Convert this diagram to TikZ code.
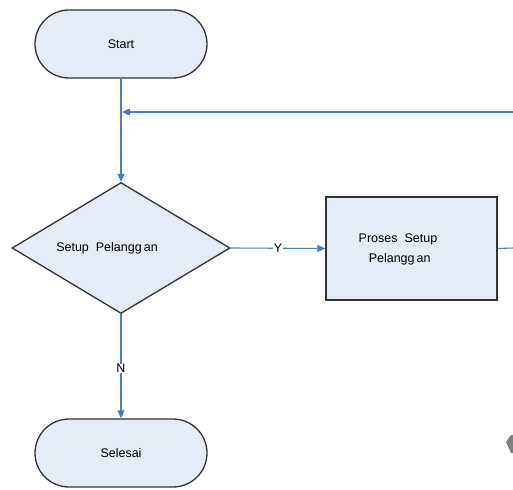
\documentclass[tikz,border=0pt]{standalone}
\usepackage{fontspec}
\setmainfont{Liberation Sans}
\usetikzlibrary{shapes.geometric,shapes.misc,arrows.meta}
\definecolor{boxfill}{HTML}{E6ECF7}
\definecolor{linkblue}{HTML}{4A7EC7}
\definecolor{edgegray}{HTML}{333333}
\begin{document}
\begin{tikzpicture}[x=1pt,y=-1pt,
  every node/.style={font=\fontsize{12.5}{20}\selectfont},
  term/.style={draw=edgegray,line width=1.3pt,fill=boxfill,rounded rectangle,minimum width=172pt,minimum height=68pt,inner sep=0pt},
  decide/.style={draw=edgegray,line width=1.3pt,fill=boxfill,diamond,minimum width=218pt,minimum height=131pt,inner sep=0pt,aspect=1.66},
  procbox/.style={draw=edgegray,line width=1.3pt,fill=boxfill,rectangle,minimum width=171pt,minimum height=103pt,inner sep=0pt},
  link/.style={draw=linkblue,line width=1.1pt,-{Triangle[length=8pt,width=7pt]}},
  plain/.style={draw=linkblue,line width=1.1pt},
  lbl/.style={fill=white,inner sep=1pt}]
\useasboundingbox (0,0) rectangle (513,489);
\node[term] (start) at (121,44) {Start};
\node[decide] (dec) at (121,248) {};
\node at (107,248) {Setup\ \ Pelangg\,an};
\node[procbox] (proc) at (411.5,248.5) {};
\node[align=left] at (398,249) {Proses\ \ Setup\\\hspace{10pt}Pelangg\,an};
\node[term] (end) at (121,453) {Selesai};
\coordinate (fbin) at (122,112);
\coordinate (fbright) at (513,112);
\coordinate (outr) at (513,248);
\draw[link] (start.south) -- (dec.north);
\draw[link] (fbright) -- (fbin);
\draw[link] (dec.east) -- node[lbl,inner sep=0.5pt]{Y} (proc.west);
\draw[plain] (proc.east) -- (outr);
\draw[link] (dec.south) -- node[lbl,inner sep=0.5pt,pos=0.52]{N} (end.north);
\fill[gray] (506,442) -- (511,435) -- (513,435) -- (513,453) -- (511,453) -- cycle;
\end{tikzpicture}
\end{document}
